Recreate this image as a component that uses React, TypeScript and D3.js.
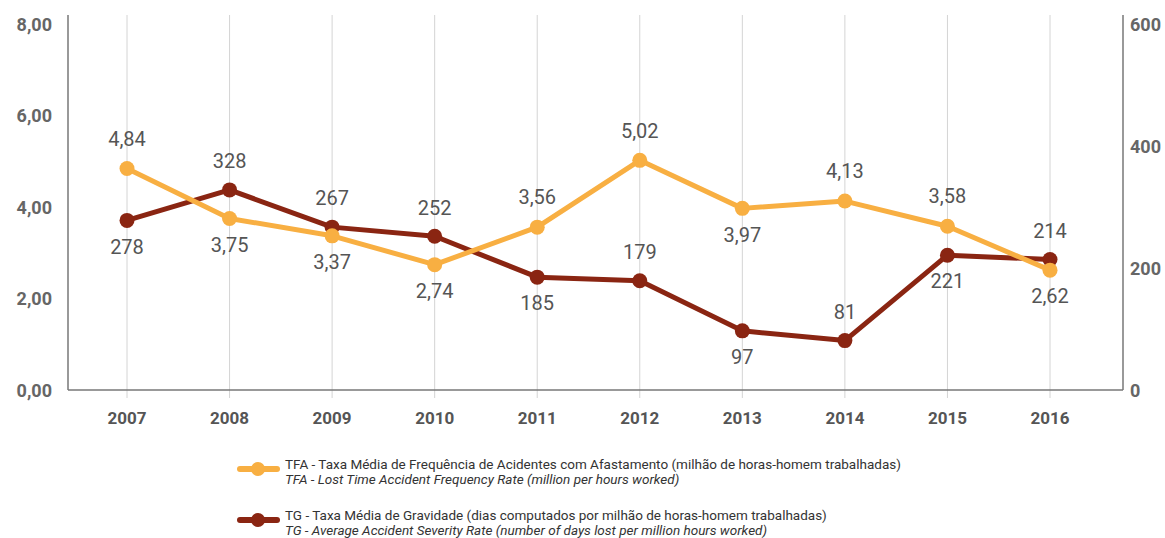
import React from "react";
import * as d3 from "d3";

const years = ["2007", "2008", "2009", "2010", "2011", "2012", "2013", "2014", "2015", "2016"];
const tfa = [4.84, 3.75, 3.37, 2.74, 3.56, 5.02, 3.97, 4.13, 3.58, 2.62];
const tg = [278, 328, 267, 252, 185, 179, 97, 81, 221, 214];
const tfaLabelAbove = [true, false, false, false, true, true, false, true, true, false];
const tgLabelAbove = [false, true, true, true, false, true, false, true, false, true];
const leftTicks = [0, 2, 4, 6, 8];
const rightTicks = [0, 200, 400, 600];
const legendLines = [
  ["TFA - Taxa Média de Frequência de Acidentes com Afastamento (milhão de horas-homem trabalhadas)", "TFA - Lost Time Accident Frequency Rate (million per hours worked)"],
  ["TG - Taxa Média de Gravidade (dias computados por milhão de horas-homem trabalhadas)", "TG - Average Accident Severity Rate (number of days lost per million hours worked)"],
];

const YELLOW = "#F8AF42";
const RED = "#8A2512";
const FONT = "Roboto, 'DejaVu Sans', sans-serif";

export default function App() {
  const W = 1165, H = 538;
  const x = d3.scalePoint<string>().domain(years).range([127, 1050]);
  const yL = d3.scaleLinear().domain([0, 8]).range([390, 24]);
  const yR = d3.scaleLinear().domain([0, 600]).range([390, 24]);
  const lineL = d3.line<number>().x((_, i) => x(years[i])!).y((d) => yL(d));
  const lineR = d3.line<number>().x((_, i) => x(years[i])!).y((d) => yR(d));
  const fmt = (v: number) => v.toFixed(2).replace(".", ",");
  const axisL = 68, axisR = 1123, axisTop = 15, base = 390;

  return (
    <svg width={W} height={H} style={{ position: "fixed", left: 0, top: 0, display: "block", background: "#fff" }} fontFamily={FONT}>
      {years.map((yr) => (
        <line key={yr} x1={x(yr)} x2={x(yr)} y1={axisTop} y2={398} stroke="#d4d4d4" strokeWidth={1} />
      ))}
      <line x1={axisL} x2={axisL} y1={axisTop} y2={base} stroke="#777" strokeWidth={1.5} />
      <line x1={axisR} x2={axisR} y1={axisTop} y2={base} stroke="#777" strokeWidth={1.5} />
      <line x1={axisL} x2={axisR} y1={base} y2={base} stroke="#777" strokeWidth={1.5} />
      {leftTicks.map((t) => (
        <text key={t} x={52} y={yL(t) + 2} textAnchor="end" dominantBaseline="middle" fontSize={18} fontWeight="bold" fill="#666">
          {fmt(t)}
        </text>
      ))}
      {rightTicks.map((t) => (
        <text key={t} x={1130} y={yR(t) + 2} textAnchor="start" dominantBaseline="middle" fontSize={18} fontWeight="bold" fill="#666">
          {t}
        </text>
      ))}
      {years.map((yr) => (
        <text key={yr} x={x(yr)} y={420} textAnchor="middle" dominantBaseline="middle" fontSize={17} fontWeight="bold" fill="#555">
          {yr}
        </text>
      ))}
      <path d={lineR(tg) || ""} fill="none" stroke={RED} strokeWidth={5} strokeLinejoin="round" />
      <path d={lineL(tfa) || ""} fill="none" stroke={YELLOW} strokeWidth={5} strokeLinejoin="round" />
      {tg.map((v, i) => (
        <circle key={"r" + i} cx={x(years[i])} cy={yR(v)} r={7.5} fill={RED} />
      ))}
      {tfa.map((v, i) => (
        <circle key={"y" + i} cx={x(years[i])} cy={yL(v)} r={7.5} fill={YELLOW} />
      ))}
      {tfa.map((v, i) => (
        <text key={"ty" + i} x={x(years[i])} y={yL(v) + (tfaLabelAbove[i] ? -28 : 28)} textAnchor="middle" dominantBaseline="middle" fontSize={20} fill="#555">
          {fmt(v)}
        </text>
      ))}
      {tg.map((v, i) => (
        <text key={"tr" + i} x={x(years[i])} y={yR(v) + (tgLabelAbove[i] ? -27 : 28)} textAnchor="middle" dominantBaseline="middle" fontSize={20} fill="#555">
          {v}
        </text>
      ))}
      {[YELLOW, RED].map((c, k) => {
        const ly = k === 0 ? 469 : 520;
        return (
          <g key={c}>
            <line x1={240} x2={277} y1={ly} y2={ly} stroke={c} strokeWidth={6} strokeLinecap="round" />
            <circle cx={258} cy={ly} r={7} fill={c} />
            <text x={285} y={ly - 4} dominantBaseline="middle" fontSize={13.5} fill="#333">{legendLines[k][0]}</text>
            <text x={285} y={ly + 11} dominantBaseline="middle" fontSize={13.5} fill="#333" fontStyle="italic">{legendLines[k][1]}</text>
          </g>
        );
      })}
    </svg>
  );
}
